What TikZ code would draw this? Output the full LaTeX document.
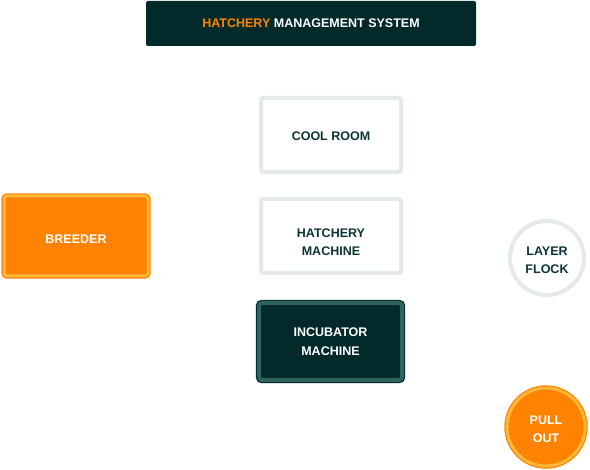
\documentclass[tikz,border=0pt]{standalone}
\usepackage{fontspec}
\setmainfont{Liberation Sans}
\definecolor{dark}{HTML}{022A2B}
\definecolor{teal}{HTML}{2F635D}
\definecolor{orng}{HTML}{FF8300}
\definecolor{lorng}{HTML}{FDB73A}
\definecolor{gry}{HTML}{E4E9E9}
\definecolor{txt}{HTML}{0D3536}
\begin{document}
\begin{tikzpicture}[x=1pt,y=-1pt,
  lbl/.style={font=\bfseries\fontsize{12.5}{18.5}\selectfont, align=center, text=txt},
  whitebox/.style={lbl, draw=gry, line width=4pt, fill=white, rounded corners=2pt, minimum width=140pt, minimum height=74pt},
  orangebox/.style={lbl, text=white, fill=orng, draw=orng, double=lorng, double distance=3pt, line width=1.2pt, rounded corners=3pt},
  darkbox/.style={lbl, text=white, fill=dark, draw=dark, double=teal, double distance=4pt, line width=1.2pt, rounded corners=3pt},
  ring/.style={lbl, circle, draw=gry, line width=4pt, fill=white, minimum size=74pt, inner sep=0pt}]
\useasboundingbox[fill=white] (0,0) rectangle (590,470);
\node[fill=dark, rounded corners=2pt, minimum width=330pt, minimum height=45pt, font=\bfseries\fontsize{12.5}{15}\selectfont, text=white] (title) at (311,23.5) {\textcolor{orng}{HATCHERY} MANAGEMENT SYSTEM};
\node[whitebox, text height=11pt] (cool) at (331,135) {COOL ROOM};
\node[whitebox] (hatch) at (331,236) {\rule{0pt}{21pt}HATCHERY\\MACHINE};
\node[darkbox, minimum width=143pt, minimum height=77pt] (incub) at (330.5,341.5) {INCUBATOR\\MACHINE};
\node[orangebox, minimum width=144pt, minimum height=80pt, text height=16pt] (breeder) at (76,236) {BREEDER};
\node[ring] (layer) at (547,258) {\rule{0pt}{13pt}LAYER\\FLOCK};
\node[orangebox, circle, minimum size=78pt, inner sep=0pt] (pull) at (546,427) {\rule{0pt}{13pt}PULL\\OUT};
\end{tikzpicture}
\end{document}
